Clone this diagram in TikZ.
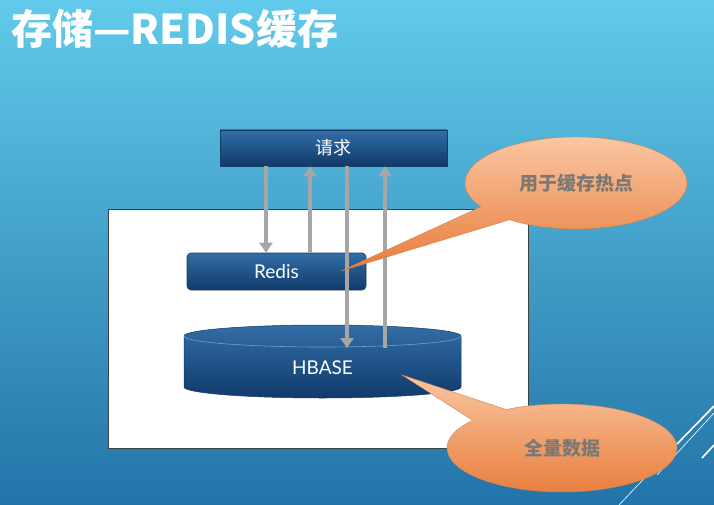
\documentclass[tikz,border=0pt]{standalone}
\usepackage{fontspec}
\setmainfont{Lato}
\newfontfamily\cjk{Noto Sans CJK SC}
\usetikzlibrary{arrows.meta,shapes.callouts}
\definecolor{fundoalto}{RGB}{98,202,234}
\definecolor{fundobaixo}{RGB}{34,116,168}
\definecolor{azulalto}{RGB}{50,110,166}
\definecolor{azulbaixo}{RGB}{16,58,106}
\definecolor{azulborda}{RGB}{20,60,100}
\definecolor{azulclaro}{RGB}{110,160,205}
\definecolor{cinza}{RGB}{166,166,166}
\definecolor{laranjaalto}{RGB}{250,198,162}
\definecolor{laranjabaixo}{RGB}{232,124,58}
\definecolor{laranjaborda}{RGB}{214,130,80}
\definecolor{cinzatexto}{RGB}{124,120,116}
\begin{document}
\begin{tikzpicture}[x=1pt,y=-1pt,
        bloco/.style={draw=azulborda, line width=0.6pt, top color=azulalto, bottom color=azulbaixo, text=white, font=\fontsize{19}{21}\selectfont, inner sep=0pt},
        seta/.style={draw=cinza, line width=4pt},
        desce/.style={-{Triangle[width=13pt,length=10pt]}},
        sobe/.style={{Triangle[width=13pt,length=10pt]}-},
        balao/.style={ellipse callout, callout pointer arc=22, top color=laranjaalto, bottom color=laranjabaixo, draw=laranjaborda, line width=0.4pt, text=cinzatexto, font=\cjk\bfseries\fontsize{19}{21}\selectfont, inner sep=0pt}]
        \useasboundingbox (0,0) rectangle (714,505);
        \shade[top color=fundoalto, bottom color=fundobaixo] (0,0) rectangle (714,505);
        % linhas de enfeite
        \draw[white, line width=1.6pt] (714,406) -- (677,444);
        \draw[white, line width=0.6pt] (677,444) -- (619,505);
        \draw[white, line width=0.6pt] (714,413) -- (657,475);
        \draw[white, line width=1.6pt] (714,445) -- (702,458);
        \node[anchor=west, text=white, font=\cjk\bfseries\fontsize{41}{44}\selectfont, inner sep=0pt] (titulo) at (11,29) {存储—REDIS缓存};
        \node[draw=black!75, fill=white, line width=0.5pt, minimum width=420pt, minimum height=239pt, inner sep=0pt] (area) at (318,328.5) {};
        \node[bloco, font=\cjk\fontsize{18}{20}\selectfont, minimum width=227pt, minimum height=36pt] (req) at (333.5,148) {请求};
        \node[bloco, rounded corners=4pt, minimum width=179pt, minimum height=37pt] (redis) at (276.5,271.5) {Redis};
        % cilindro
        \shade[top color=azulalto, bottom color=azulbaixo, draw=azulborda, line width=0.5pt]
            (184,336) -- (184,387) arc[start angle=180, end angle=0, x radius=138.5, y radius=11]
            -- (461,336) arc[start angle=0, end angle=-180, x radius=138.5, y radius=11] -- cycle;
        \draw[azulclaro, line width=0.6pt] (184,336) arc[start angle=180, end angle=0, x radius=138.5, y radius=11];
        \node[text=white, font=\fontsize{19}{21}\selectfont] (hbase) at (322.5,368) {HBASE};
        \coordinate (borda) at (322.5,348);
        \foreach \dx/\alvo/\sentido in {-67.5/redis.north/desce, -23.5/redis.north/sobe, 13.5/borda/desce, 51.5/borda/sobe}{
            \draw[seta, \sentido] ([xshift=\dx pt]req.south) -- ([xshift=\dx pt]req.south |- \alvo);
        }
        \coordinate (pontaredis) at (341,271);
        \coordinate (pontahbase) at (402,375);
        \node[balao, minimum width=222pt, minimum height=92pt, callout absolute pointer={(pontaredis)}] (quente) at (576,183) {用于缓存热点};
        \node[balao, minimum width=230pt, minimum height=88pt, callout absolute pointer={(pontahbase)}] (total) at (562,448) {全量数据};
    \end{tikzpicture}
\end{document}
